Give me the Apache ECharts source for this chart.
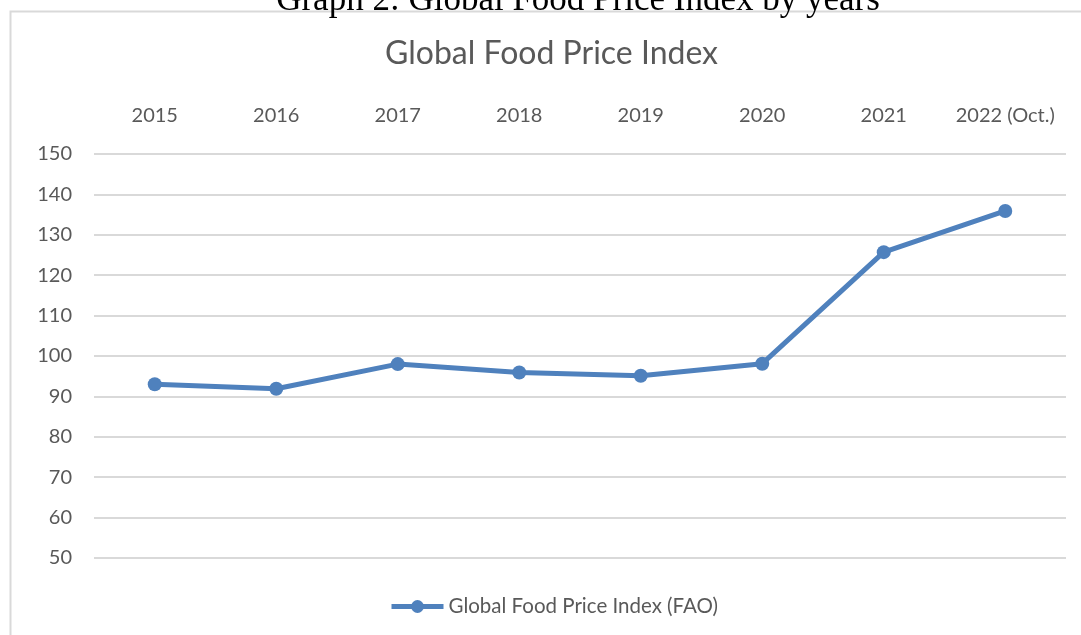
<!DOCTYPE html>
<html><head><meta charset="utf-8">
<script src="https://cdn.jsdelivr.net/npm/echarts@6/dist/echarts.min.js"></script>
<style>html,body{margin:0;padding:0;background:#fff}#c{width:1081px;height:635px}</style>
</head><body><div id="c"></div>
<script>
const categories = ['2015','2016','2017','2018','2019','2020','2021','2022 (Oct.)'];
const values = [93.0, 91.9, 98.0, 95.9, 95.1, 98.1, 125.7, 135.9];
const seriesName = 'Global Food Price Index (FAO)';
const chartTitle = 'Global Food Price Index';
const caption = 'Graph 2: Global Food Price Index by years';

const chart = echarts.init(document.getElementById('c'));
const font = 'Lato, "Open Sans", sans-serif';
chart.setOption({
  animation: false,
  backgroundColor: '#fff',
  title: {
    text: chartTitle, left: 380, top: 33,
    textStyle: {fontFamily: font, fontSize: 32, fontWeight: 'normal', color: '#595959'}
  },
  graphic: [
    {type: 'polyline', shape: {points: [[10.5, 640], [10.5, 11.5], [1090, 11.5]]},
     style: {stroke: '#d9d9d9', lineWidth: 2, fill: null}},
    {type: 'text', x: 578, y: 1,
     style: {text: caption, font: '35px "Liberation Serif", "Times New Roman", serif', fill: '#000',
       textAlign: 'center', textVerticalAlign: 'middle'}}
  ],
  legend: {
    bottom: 13, left: 384, itemWidth: 52, itemHeight: 16,
    lineStyle: {width: 5},
    textStyle: {fontFamily: font, fontSize: 20.5, color: '#595959'},
    data: [seriesName]
  },
  grid: {left: 94, right: 15, top: 154, bottom: 77, containLabel: false},
  xAxis: {
    type: 'category', data: categories, position: 'top', boundaryGap: true,
    axisLine: {show: false}, axisTick: {show: false},
    axisLabel: {interval: 0, fontFamily: font, fontSize: 20, color: '#595959', margin: 28}
  },
  yAxis: {
    type: 'value', min: 50, max: 150, interval: 10,
    axisLine: {show: false}, axisTick: {show: false},
    axisLabel: {fontFamily: font, fontSize: 20, color: '#595959', margin: 22},
    splitLine: {lineStyle: {color: '#d9d9d9', width: 2}}
  },
  series: [{
    name: seriesName, type: 'line', data: values,
    symbol: 'circle', symbolSize: 14,
    lineStyle: {color: '#4f81bd', width: 5},
    itemStyle: {color: '#4f81bd'}
  }]
});
</script></body></html>
